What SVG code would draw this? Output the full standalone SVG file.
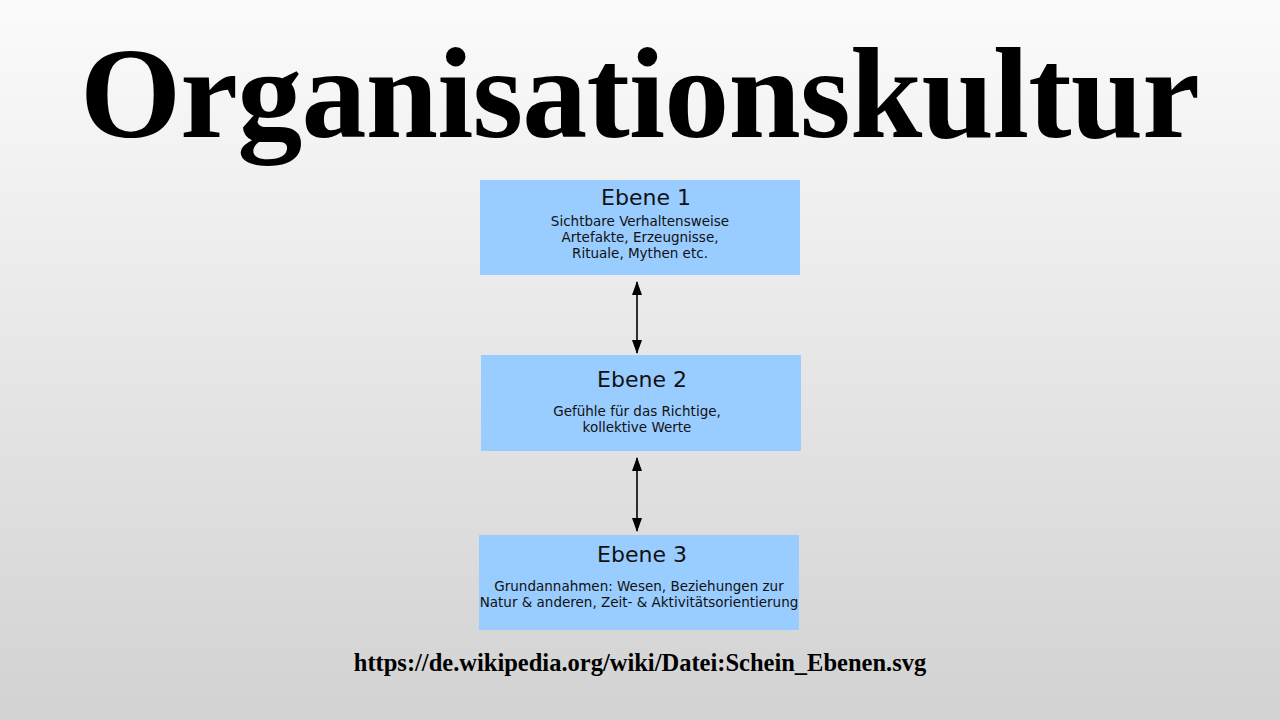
<svg xmlns="http://www.w3.org/2000/svg" width="1280" height="720" viewBox="0 0 1280 720">
<defs>
<linearGradient id="bg" x1="0" y1="0" x2="0" y2="1">
<stop offset="0" stop-color="#fbfbfb"/>
<stop offset="1" stop-color="#d2d2d2"/>
</linearGradient>
<marker id="ah" viewBox="0 0 14 10" refX="13" refY="5" markerWidth="14" markerHeight="10" markerUnits="userSpaceOnUse" orient="auto-start-reverse">
<path d="M0,0 L14,5 L0,10 Z" fill="#000"/>
</marker>
<style>
.box{fill:#99ccff;}
.h{font-family:"DejaVu Sans",sans-serif;font-size:22px;fill:#111;text-anchor:middle;}
.s{font-family:"DejaVu Sans",sans-serif;font-size:13.5px;fill:#111;text-anchor:middle;}
.c{stroke:#000;stroke-width:1.6;fill:none;marker-start:url(#ah);marker-end:url(#ah);}
</style>
</defs>
<rect width="1280" height="720" fill="url(#bg)"/>
<text x="640" y="137" font-family="'Liberation Serif',serif" font-weight="bold" font-size="130" text-anchor="middle" textLength="1120" lengthAdjust="spacing">Organisationskultur</text>
<g id="ebene1">
<rect class="box" x="480" y="180" width="320" height="95"/>
<text class="h" x="646" y="205">Ebene 1</text>
<text class="s" x="640" y="226">Sichtbare Verhaltensweise</text>
<text class="s" x="640" y="242">Artefakte, Erzeugnisse,</text>
<text class="s" x="640" y="258">Rituale, Mythen etc.</text>
</g>
<g id="ebene2">
<rect class="box" x="481" y="355" width="320" height="96"/>
<text class="h" x="642" y="387">Ebene 2</text>
<text class="s" x="637" y="416">Gefühle für das Richtige,</text>
<text class="s" x="637" y="432">kollektive Werte</text>
</g>
<g id="ebene3">
<rect class="box" x="479" y="535" width="320" height="95"/>
<text class="h" x="642" y="562">Ebene 3</text>
<text class="s" x="639" y="591">Grundannahmen: Wesen, Beziehungen zur</text>
<text class="s" x="639" y="607">Natur &amp; anderen, Zeit- &amp; Aktivitätsorientierung</text>
</g>
<g id="connectors">
<line class="c" x1="637" y1="282" x2="637" y2="353"/>
<line class="c" x1="637" y1="458" x2="637" y2="531"/>
</g>
<text x="640" y="671" font-family="'Liberation Serif',serif" font-weight="bold" font-size="24.5" text-anchor="middle">https://de.wikipedia.org/wiki/Datei:Schein_Ebenen.svg</text>
</svg>
